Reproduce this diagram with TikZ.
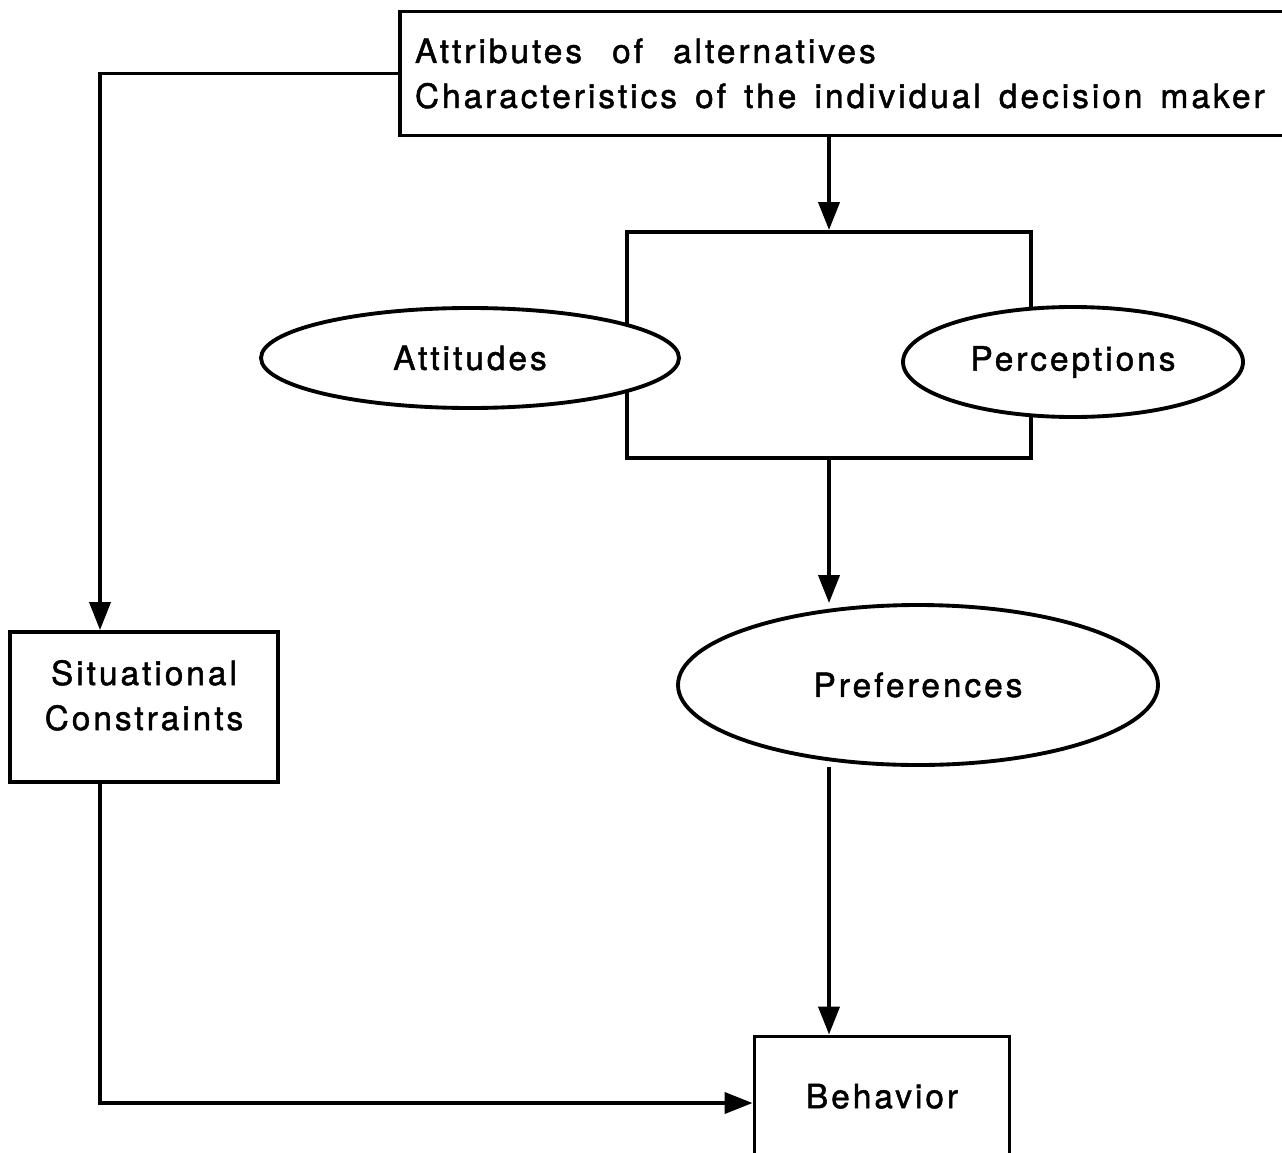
\documentclass[tikz,border=0pt]{standalone}
\usepackage{fontspec}
\setmainfont{TeX Gyre Heros}[LetterSpace=9.0, FakeBold=1.4]
\usepackage{tikz}
\usetikzlibrary{arrows.meta, shapes.geometric}
\def\lw{1.1pt}
\def\shiftL{-0.44cm}
\newcommand{\gap}[1][2pt]{\hspace{#1} }

\begin{document}
\begin{tikzpicture}[
    line width=\lw,
    >={Triangle[length=2.8mm,width=2.1mm]},
    every node/.style={font=\fontsize{9.5}{12.8}\selectfont},
    box/.style={rectangle, draw, fill=white, inner sep=0pt, align=center},
    oval/.style={ellipse, draw, fill=white, inner sep=0pt}
]
\useasboundingbox (0,0) rectangle (12.82,-11.52);

\node[box, minimum height=1.24cm, text width=8.6cm, inner xsep=0.15cm, align=left]
    (top) at (8.45,-0.735) {Attributes\gap[5.4pt]of\gap[5.4pt]alternatives\\
    Characteristics\gap of\gap the\gap individual\gap decision\gap maker};
\node[box, minimum width=4.04cm, minimum height=2.26cm] (mid) at (8.29,-3.45) {};
\node[oval, minimum width=4.18cm, minimum height=1.0cm] (att) at (4.70,-3.58) {Attitudes};
\node[oval, minimum width=3.40cm, minimum height=1.10cm] (perc) at (10.73,-3.62) {Perceptions};
\node[oval, minimum width=4.80cm, minimum height=1.60cm] (pref) at (9.18,-6.85) {Preferences};
\node[box, minimum width=2.68cm, minimum height=1.50cm, text depth=6.8pt] (sit) at (1.44,-7.07) {Situational\\Constraints};
\node[box, minimum width=2.55cm, minimum height=1.33cm, text depth=4pt] (beh) at (8.82,-11.03) {Behavior};

\draw[->] (top.west) -| ([xshift=\shiftL]sit.north);
\draw[->] (mid.north |- top.south) -- (mid.north);
\draw[->] (mid.south) -- (mid.south |- pref.north);
\draw[->] (mid.south |- pref.south) -- (mid.south |- beh.north);
\draw[->] ([xshift=\shiftL]sit.south) |- (beh.west);
\end{tikzpicture}
\end{document}
